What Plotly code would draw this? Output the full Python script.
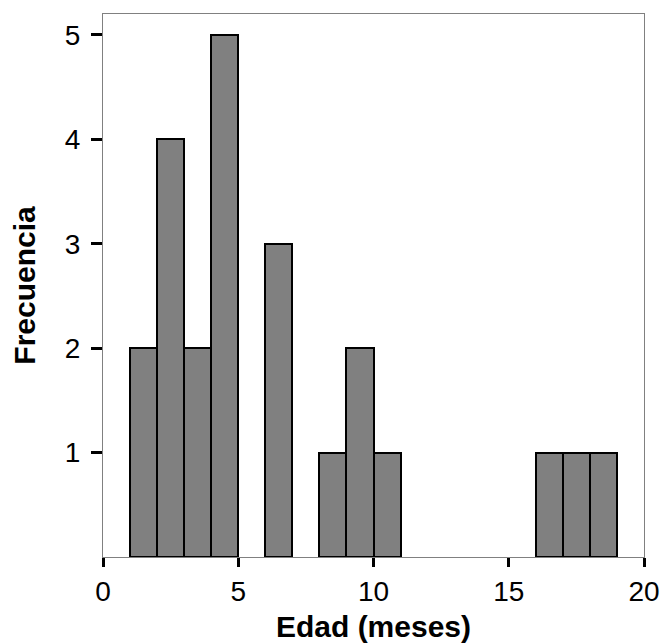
import plotly.graph_objects as go

bin_starts = [1, 2, 3, 4, 6, 8, 9, 10, 16, 17, 18]
counts = [2, 4, 2, 5, 3, 1, 2, 1, 1, 1, 1]
bin_width = 1
x_ticks = [0, 5, 10, 15, 20]
y_ticks = [1, 2, 3, 4, 5]

fig = go.Figure(go.Bar(
    x=bin_starts, y=counts, width=bin_width, offset=0,
    marker=dict(color="#808080", line=dict(color="black", width=2)),
))

font = "Liberation Sans, Arial, sans-serif"
fig.update_layout(
    width=663, height=643,
    margin=dict(l=103, r=19, t=14, b=86),
    plot_bgcolor="white", paper_bgcolor="white",
    showlegend=False, bargap=0,
    font=dict(family=font, size=28, color="black"),
)
fig.update_xaxes(
    range=[0, 20], tickvals=x_ticks, showgrid=False, zeroline=False,
    showline=True, linecolor="#808080", linewidth=1, mirror=True,
    ticks="outside", ticklen=9, tickwidth=3, tickcolor="black",
    tickfont=dict(size=28), automargin=False,
    title=dict(text="<b>Edad (meses)</b>", font=dict(size=30), standoff=10),
)
fig.update_yaxes(
    range=[0, 5.2], tickvals=y_ticks, showgrid=False, zeroline=False,
    showline=True, linecolor="#808080", linewidth=1, mirror=True,
    ticks="outside", ticklen=11, tickwidth=3, tickcolor="black",
    tickfont=dict(size=28), ticklabelstandoff=5, automargin=False,
    title=dict(text="<b>Frecuencia</b>", font=dict(size=30), standoff=20),
)

fig.write_html("out.html", config={"displayModeBar": False},
               post_script="document.body.style.margin='0';")
